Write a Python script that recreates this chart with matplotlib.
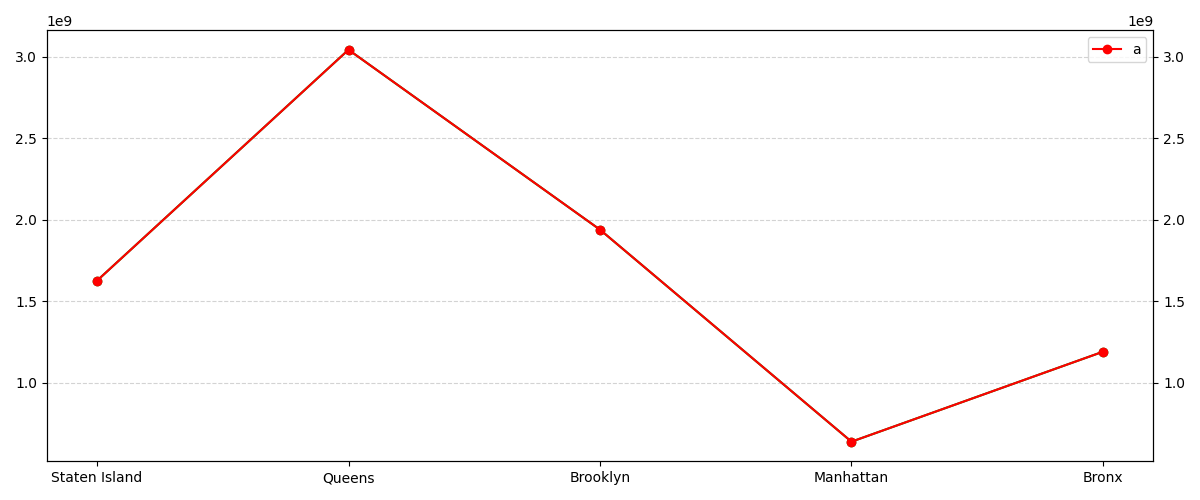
import matplotlib
matplotlib.use("Agg")
import matplotlib.pyplot as plt

boroughs = ['Staten Island', 'Queens', 'Brooklyn', 'Manhattan', 'Bronx']
values = [1.626e9, 3.043e9, 1.939e9, 0.638e9, 1.190e9]

fig, ax = plt.subplots(figsize=(12, 5))
ax.plot(boroughs, values, color='green', marker='o')
ax.grid(axis='y', linestyle='--', color='lightgray')

ax2 = ax.twinx()
ax2.plot(boroughs, values, color='red', marker='o', label='a')
ax2.set_ylim(ax.get_ylim())
ax2.legend(loc='upper right')

plt.tight_layout()
plt.savefig('out.png')
